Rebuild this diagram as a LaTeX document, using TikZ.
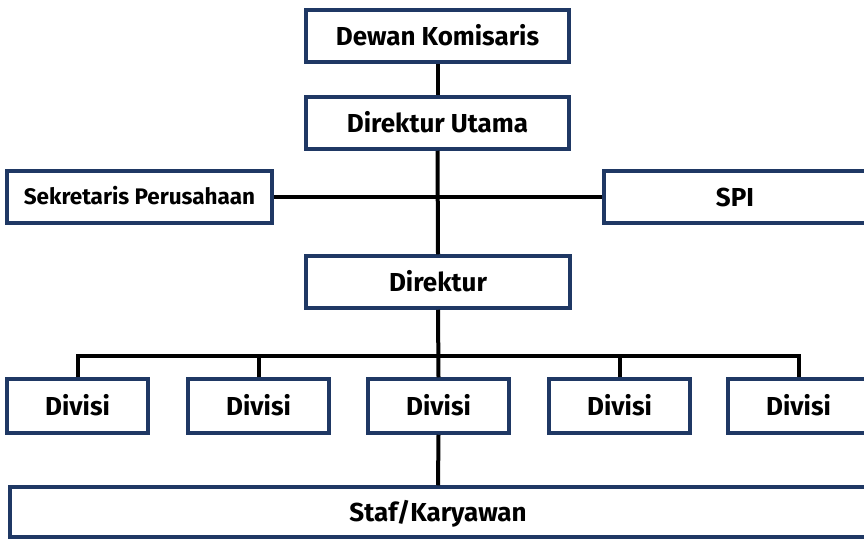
\documentclass[tikz,border=0pt]{standalone}
\usepackage{fontspec}
\setmainfont{Fira Sans}
\definecolor{navy}{HTML}{1F3864}
\tikzset{
  box/.style={draw=navy, line width=3.5pt, fill=white, inner sep=0pt, font=\bfseries\fontsize{26}{30}\selectfont, text height=18pt, text depth=0pt},
  smallbox/.style={font=\bfseries\fontsize{22.5}{26}\selectfont, text height=15.5pt, text depth=0pt},
  conn/.style={draw=black, line width=4pt},
}
\begin{document}
\begin{tikzpicture}[x=1pt,y=-1pt]
\useasboundingbox (0,0) rectangle (864,538);
\clip (0,0) rectangle (864,538);
\node[box, minimum width=263pt, minimum height=52pt] (dk) at (437.5,36) {Dewan Komisaris};
\node[box, minimum width=263pt, minimum height=52pt] (du) at (437.5,123) {Direktur Utama};
\node[box, smallbox, minimum width=265pt, minimum height=52pt] (sp) at (139.5,197) {Sekretaris Perusahaan};
\node[box, minimum width=262pt, minimum height=52pt] (spi) at (735,197) {SPI};
\node[box, minimum width=264pt, minimum height=52pt] (dir) at (438,282) {Direktur};
\node[box, minimum width=141pt, minimum height=54pt] (d1) at (77.5,406) {Divisi};
\node[box, minimum width=141pt, minimum height=54pt] (d2) at (258.5,406) {Divisi};
\node[box, minimum width=141pt, minimum height=54pt] (d3) at (438.5,406) {Divisi};
\node[box, minimum width=141pt, minimum height=54pt] (d4) at (619.5,406) {Divisi};
\node[box, minimum width=141pt, minimum height=54pt] (d5) at (798.5,406) {Divisi};
\node[box, minimum width=856pt, minimum height=50pt] (staf) at (438,512) {Staf/Karyawan};
\coordinate (bus) at (438,356);
\draw[conn] (dk.south) -- (du.north);
\draw[conn] (du.south) -- (dir.north);
\draw[conn] (sp.east) -- (spi.west);
\draw[conn] (dir.south) -- (d3.north);
\draw[conn] (d1.north) |- (bus) -| (d5.north);
\draw[conn] (d2.north) -- (d2.north |- bus);
\draw[conn] (d4.north) -- (d4.north |- bus);
\draw[conn] (d3.south) -- (staf.north);
\end{tikzpicture}
\end{document}
